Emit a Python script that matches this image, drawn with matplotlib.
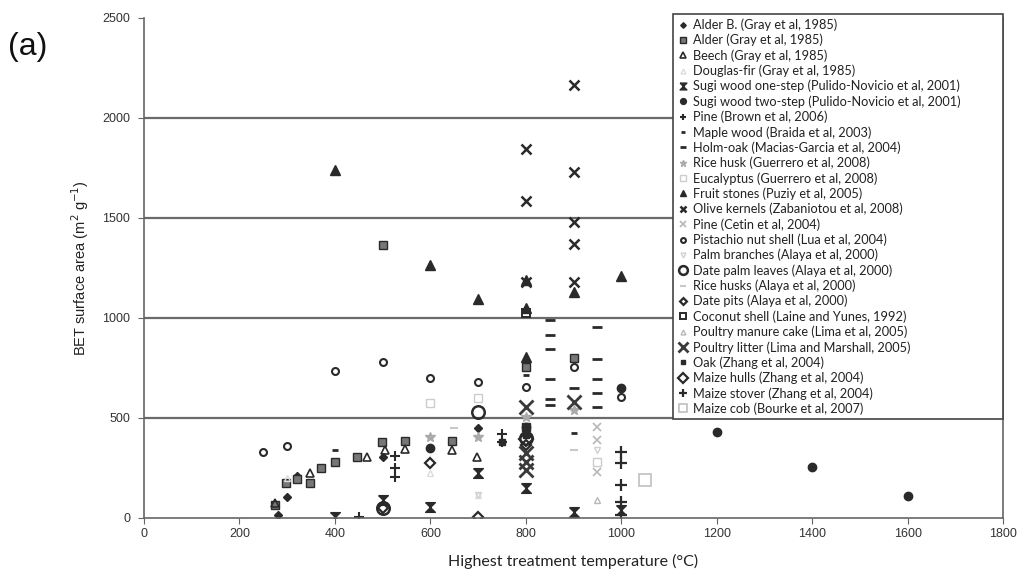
import matplotlib.pyplot as plt

# series data (temperature in C, BET surface area in m2/g)
alder_b_x = [280, 300, 320, 500, 700]
alder_b_y = [15, 105, 210, 305, 450]
alder_x = [275, 297, 320, 348, 371, 400, 446, 498, 547, 645, 500, 800, 800, 900]
alder_y = [65, 175, 195, 175, 250, 280, 305, 380, 385, 385, 1365, 755, 455, 800]
beech_x = [275, 348, 467, 504, 547, 645, 697]
beech_y = [75, 225, 305, 340, 345, 340, 305]
douglas_x = [300, 600, 700]
douglas_y = [200, 225, 115]
sugi1_x = [400, 500, 600, 700, 800, 900, 1000]
sugi1_y = [5, 90, 55, 225, 150, 30, 40]
sugi2_x = [600, 800, 1000, 1200, 1400, 1600]
sugi2_y = [350, 455, 650, 430, 255, 110]
pine_brown_x = [450, 525, 525, 525, 750, 750]
pine_brown_y = [5, 310, 250, 205, 420, 380]
maple_x = [400, 800, 900]
maple_y = [340, 715, 425]
holm_x = [850, 850, 850, 850, 850, 850, 950, 950, 950, 950, 950, 900]
holm_y = [990, 915, 845, 695, 595, 565, 955, 795, 695, 625, 555, 650]
rice_husk_g_x = [600, 700, 800, 900]
rice_husk_g_y = [405, 405, 505, 540]
eucalyptus_x = [600, 700, 950]
eucalyptus_y = [575, 600, 280]
fruit_x = [400, 600, 700, 800, 800, 800, 900, 1000]
fruit_y = [1740, 1265, 1095, 1190, 1050, 805, 1130, 1210]
olive_x = [800, 800, 800, 900, 900, 900, 900, 900]
olive_y = [1845, 1585, 1180, 2165, 1730, 1480, 1370, 1180]
pine_cetin_x = [950, 950, 950]
pine_cetin_y = [455, 390, 230]
pistachio_x = [250, 300, 400, 500, 600, 700, 800, 900, 1000]
pistachio_y = [330, 360, 735, 780, 700, 680, 655, 755, 605]
palm_br_x = [700, 950]
palm_br_y = [115, 340]
palm_lv_x = [500, 700, 800]
palm_lv_y = [50, 530, 400]
rice_alaya_x = [650, 900]
rice_alaya_y = [450, 340]
date_pits_x = [500, 600, 700, 800]
date_pits_y = [50, 275, 5, 365]
coconut_x = [800]
coconut_y = [1025]
manure_x = [950]
manure_y = [90]
litter_x = [800, 800, 800, 800, 900]
litter_y = [555, 325, 280, 240, 580]
oak_x = [750, 800]
oak_y = [380, 415]
hulls_x = [800]
hulls_y = [395]
stover_x = [1000, 1000, 1000, 1000, 1000]
stover_y = [330, 275, 165, 80, 15]
cob_x = [1050]
cob_y = [190]

dark = '#2a2a2a'
light = '#b8b8b8'
hourglass = [(-1, 1), (1, 1), (-1, -1), (1, -1), (-1, 1)]

fig = plt.figure(figsize=(10.23, 5.80), dpi=100)
ax = fig.add_axes([0.1408, 0.1069, 0.8397, 0.8621])

def pts(x, y, label, **kw):
    kw.setdefault('linestyle', 'none')
    ax.plot(x, y, label=label, **kw)

pts(alder_b_x, alder_b_y, 'Alder B. (Gray et al, 1985)', marker='D', ms=4, color=dark)
pts(alder_x, alder_y, 'Alder (Gray et al, 1985)', marker='s', ms=6, mfc='#777777', mec=dark, mew=1)
pts(beech_x, beech_y, 'Beech (Gray et al, 1985)', marker='^', ms=6, mfc='none', mec=dark, mew=1.2)
pts(douglas_x, douglas_y, 'Douglas-fir (Gray et al, 1985)', marker='^', ms=5, mfc='none', mec='#dddddd')
pts(sugi1_x, sugi1_y, 'Sugi wood one-step (Pulido-Novicio et al, 2001)', marker=hourglass, ms=7, color=dark)
pts(sugi2_x, sugi2_y, 'Sugi wood two-step (Pulido-Novicio et al, 2001)', marker='o', ms=6, color=dark)
pts(pine_brown_x, pine_brown_y, 'Pine (Brown et al, 2006)', marker='+', ms=7, mew=1.5, color=dark)
pts(maple_x, maple_y, 'Maple wood (Braida et al, 2003)', marker='_', ms=5, mew=2, color=dark)
pts(holm_x, holm_y, 'Holm-oak (Macias-Garcia et al, 2004)', marker='_', ms=7, mew=2, color=dark)
pts(rice_husk_g_x, rice_husk_g_y, 'Rice husk (Guerrero et al, 2008)', marker='*', ms=7, color='#aaaaaa')
pts(eucalyptus_x, eucalyptus_y, 'Eucalyptus (Guerrero et al, 2008)', marker='s', ms=6, mfc='none', mec='#cccccc')
pts(fruit_x, fruit_y, 'Fruit stones (Puziy et al, 2005)', marker='^', ms=7, color=dark)
pts(olive_x, olive_y, 'Olive kernels (Zabaniotou et al, 2008)', marker='x', ms=7, mew=1.8, color=dark)
pts(pine_cetin_x, pine_cetin_y, 'Pine (Cetin et al, 2004)', marker='x', ms=6, mew=1.2, color=light)
pts(pistachio_x, pistachio_y, 'Pistachio nut shell (Lua et al, 2004)', marker='o', ms=5, mfc='none', mec=dark, mew=1.5)
pts(palm_br_x, palm_br_y, 'Palm branches (Alaya et al, 2000)', marker='v', ms=5, mfc='none', mec='#d0d0d0')
pts(palm_lv_x, palm_lv_y, 'Date palm leaves (Alaya et al, 2000)', marker='o', ms=9, mfc='none', mec=dark, mew=1.8)
pts(rice_alaya_x, rice_alaya_y, 'Rice husks (Alaya et al, 2000)', marker='_', ms=6, mew=1.5, color='#c8c8c8')
pts(date_pits_x, date_pits_y, 'Date pits (Alaya et al, 2000)', marker='D', ms=5, mfc='none', mec=dark, mew=1.6)
pts(coconut_x, coconut_y, 'Coconut shell (Laine and Yunes, 1992)', marker='s', ms=6, mfc='none', mec=dark, mew=1.4)
pts(manure_x, manure_y, 'Poultry manure cake (Lima et al, 2005)', marker='^', ms=5, mfc='none', mec=light)
pts(litter_x, litter_y, 'Poultry litter (Lima and Marshall, 2005)', marker='x', ms=10, mew=2, color='#3a3a3a')
pts(oak_x, oak_y, 'Oak (Zhang et al, 2004)', marker='s', ms=4, color=dark)
pts(hulls_x, hulls_y, 'Maize hulls (Zhang et al, 2004)', marker='D', ms=7, mfc='none', mec=dark, mew=1.6)
pts(stover_x, stover_y, 'Maize stover (Zhang et al, 2004)', marker='+', ms=9, mew=1.6, color=dark)
pts(cob_x, cob_y, 'Maize cob (Bourke et al, 2007)', marker='s', ms=9, mfc='none', mec='#c0c0c0', mew=1.2)

ax.set_xlim(0, 1800)
ax.set_ylim(0, 2500)
ax.set_xticks(range(0, 2000, 200))
ax.set_yticks(range(0, 3000, 500))
for g in [500, 1000, 1500, 2000]:
    ax.axhline(g, color='#6a6a6a', lw=1.6, zorder=0)

for s in ['top']:
    ax.spines[s].set_visible(False)
for s in ['left', 'bottom', 'right']:
    ax.spines[s].set_color('#666666')
    ax.spines[s].set_linewidth(1.2)
ax.tick_params(direction='out', length=4, color='#666666', labelcolor='#333333', labelsize=9)
ax.tick_params(axis='y', pad=6)
for t in ax.get_xticklabels() + ax.get_yticklabels():
    t.set_family('Liberation Sans')

ax.set_xlabel('Highest treatment temperature (\u00b0C)', fontsize=11.5, family='Lato', color='#222222', labelpad=10)
ax.set_ylabel('BET surface area (m$^2$ g$^{-1}$)', fontsize=10.5, family='Liberation Sans', color='#222222', labelpad=8)

fig.text(0.008, 0.905, '(a)', fontsize=23, family='Liberation Sans', color='#111111')

leg = ax.legend(loc='upper left', bbox_to_anchor=(0.616, 0.202, 0.384, 0.806), mode='expand',
                labelspacing=0.22, markerscale=0.7,
                handlelength=0.8, handletextpad=0.4, borderpad=0.35, borderaxespad=0,
                frameon=True, fancybox=False, prop={'family': 'Lato', 'size': 9.2})
leg.get_frame().set_edgecolor('#444444')
leg.get_frame().set_linewidth(1.2)
leg.get_frame().set_alpha(1)
for t in leg.get_texts():
    t.set_color('#222222')

fig.savefig('out.png', dpi=100)
